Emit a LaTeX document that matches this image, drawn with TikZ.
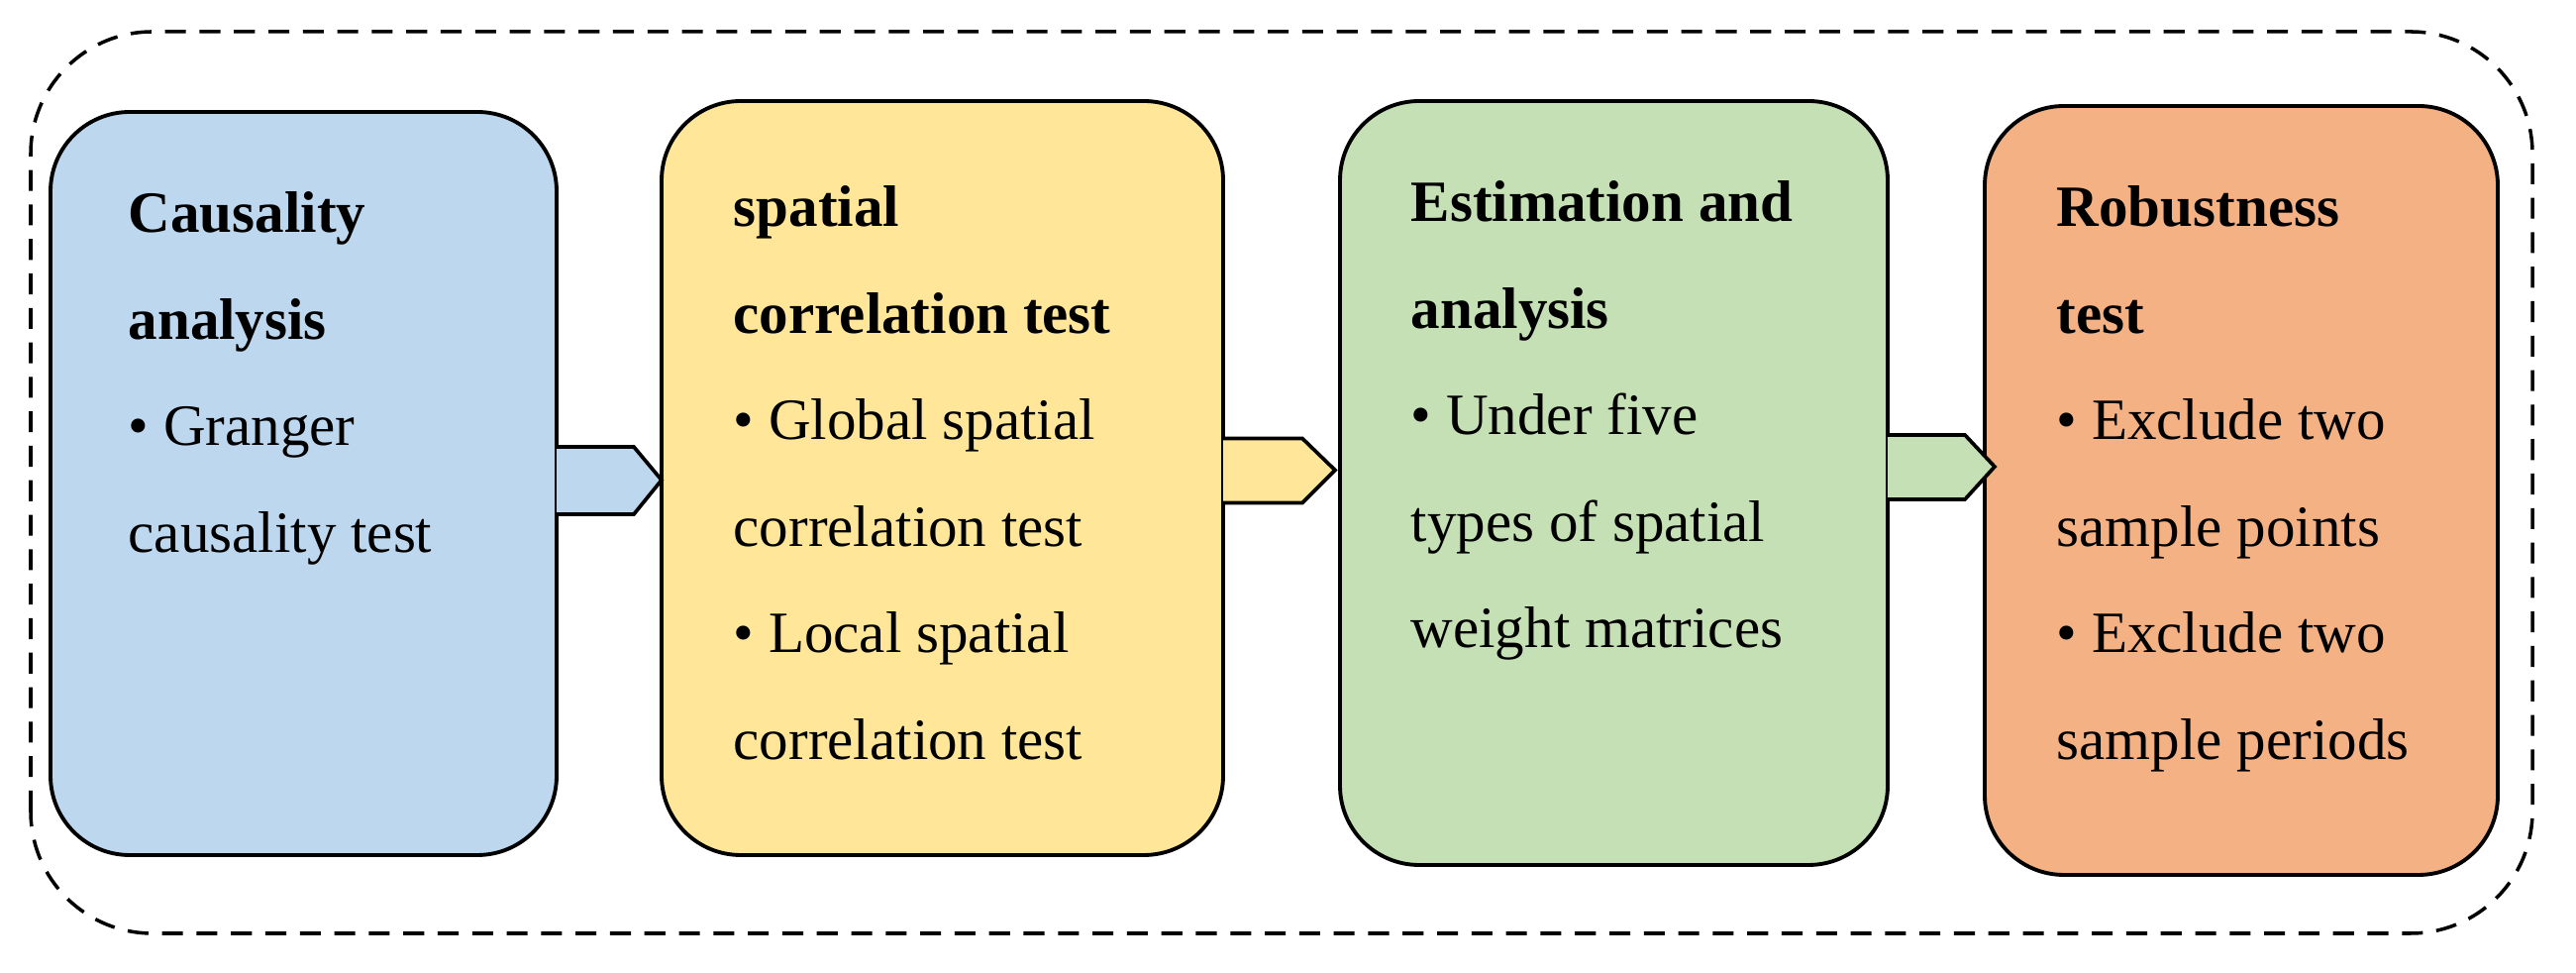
\documentclass[tikz,border=0pt]{standalone}
\usepackage{fontspec}
\setmainfont{Liberation Serif}
\usetikzlibrary{positioning}

\definecolor{causeblue}{HTML}{BDD7EE}
\definecolor{spatialyellow}{HTML}{FFE699}
\definecolor{estimgreen}{HTML}{C5E0B4}
\definecolor{robustorange}{HTML}{F4B183}

\begin{document}
\begin{tikzpicture}[
        stage/.style={draw, line width=1.1pt, rounded corners=0.8cm, anchor=south west, inner sep=0pt, outer sep=0pt},
        stagetext/.style={anchor=north west, inner sep=0pt, align=left, font=\fontsize{16.8}{30.6}\selectfont},
        pointer/.style={draw, line width=1.05pt, line join=miter}
    ]
        \useasboundingbox (0, 0) rectangle (26.01, 9.82);

        % Dashed frame around everything
        \draw[dash pattern=on 6pt off 3.9pt, line width=1pt, rounded corners=1.23cm] (0.31, 0.40) rectangle (25.57, 9.50);

        % The four stages
        \node[stage, fill=causeblue, minimum width=5.11cm, minimum height=7.50cm] (causal) at (0.51, 1.19) {};
        \node[stage, fill=spatialyellow, minimum width=5.67cm, minimum height=7.61cm] (spatial) at (6.68, 1.19) {};
        \node[stage, fill=estimgreen, minimum width=5.53cm, minimum height=7.71cm] (estim) at (13.53, 1.09) {};
        \node[stage, fill=robustorange, minimum width=5.18cm, minimum height=7.76cm] (robust) at (20.04, 0.99) {};

        % Texts inside the stages
        \node[stagetext] (causaltxt) at ([xshift=0.78cm, yshift=-0.80cm]causal.north west)
            {\textbf{Causality}\\ \textbf{analysis}\\ • Granger\\ causality test};
        \node[stagetext] (spatialtxt) at ([xshift=0.72cm, yshift=-0.85cm]spatial.north west)
            {\textbf{spatial}\\ \textbf{correlation test}\\ • Global spatial\\ correlation test\\ • Local spatial\\ correlation test};
        \node[stagetext] (estimtxt) at ([xshift=0.71cm, yshift=-0.80cm]estim.north west)
            {\textbf{Estimation and}\\ \textbf{analysis}\\ • Under five\\ types of spatial\\ weight matrices};
        \node[stagetext] (robusttxt) at ([xshift=0.72cm, yshift=-0.80cm]robust.north west)
            {\textbf{Robustness}\\ \textbf{test}\\ • Exclude two\\ sample points\\ • Exclude two\\ sample periods};

        % Arrows between the stages
        \draw[pointer, fill=causeblue] ([yshift=0.37cm]causal.east) -- ([xshift=0.78cm, yshift=0.37cm]causal.east)
            -- ([yshift=-0.02cm]spatial.west) -- ([xshift=0.78cm, yshift=-0.31cm]causal.east) -- ([yshift=-0.31cm]causal.east);
        \draw[pointer, fill=spatialyellow] ([yshift=0.40cm]spatial.east) -- ([xshift=0.80cm, yshift=0.40cm]spatial.east)
            -- ([xshift=-0.05cm, yshift=0.13cm]estim.west) -- ([xshift=0.80cm, yshift=-0.25cm]spatial.east) -- ([yshift=-0.25cm]spatial.east);
        \draw[pointer, fill=estimgreen] ([yshift=0.485cm]estim.east) -- ([xshift=0.78cm, yshift=0.485cm]estim.east)
            -- ([xshift=0.10cm, yshift=0.24cm]robust.west) -- ([xshift=0.78cm, yshift=-0.165cm]estim.east) -- ([yshift=-0.165cm]estim.east);

    \end{tikzpicture}
\end{document}
